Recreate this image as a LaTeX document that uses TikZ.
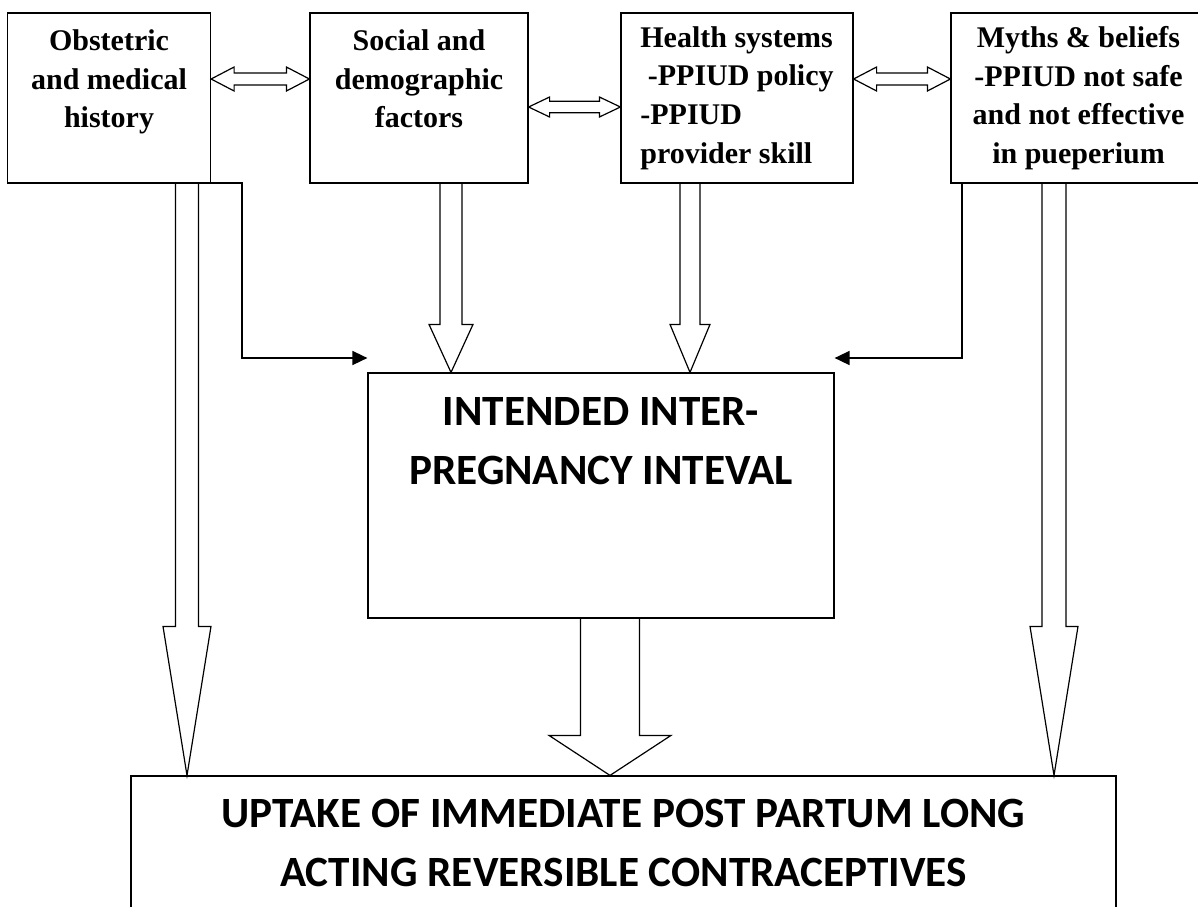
\documentclass[tikz,border=0pt]{standalone}
\usepackage{fontspec}
\setmainfont{Liberation Serif}
\newfontfamily\calibrifont{Carlito}
\usetikzlibrary{calc, arrows.meta}

\tikzset{
  box/.style={draw, line width=0.6pt, rectangle, inner sep=0pt, minimum height=85pt},
  factor/.style={font=\fontsize{15}{19.3}\selectfont\bfseries, align=center},
  bigtext/.style={font=\calibrifont\fontsize{21.6}{29.5}\selectfont\bfseries, align=center, inner sep=0pt},
  elbow/.style={line width=0.8pt, -{Triangle[length=7.5pt,width=7pt]}},
  hollow/.style={line width=0.6pt, line join=miter}
}

% hollow block arrow pointing down: start, tip, shaft half width, head half width, head length
\newcommand{\downblock}[5]{%
  \draw[hollow] let \p1=(#1), \p2=(#2) in
    (\x1-#3,\y1) -- (\x1-#3,\y2+#5) -- (\x1-#4,\y2+#5) -- (\x1,\y2)
    -- (\x1+#4,\y2+#5) -- (\x1+#3,\y2+#5) -- (\x1+#3,\y1);}

% hollow block arrow with two heads: left end, right end, shaft half width, head half width, head length
\newcommand{\twoway}[5]{%
  \draw[hollow] let \p1=(#1), \p2=(#2) in
    (\x1,\y1) -- (\x1+#5,\y1+#4) -- (\x1+#5,\y1+#3) -- (\x2-#5,\y1+#3) -- (\x2-#5,\y1+#4)
    -- (\x2,\y1) -- (\x2-#5,\y1-#4) -- (\x2-#5,\y1-#3) -- (\x1+#5,\y1-#3) -- (\x1+#5,\y1-#4) -- cycle;}

\begin{document}
\begin{tikzpicture}[x=0.5pt, y=-0.5pt]
  \useasboundingbox (0,0) rectangle (1198,906);
  \clip (0,0) rectangle (1198,906);
  \fill[white] (0,0) rectangle (1198,906);

  % factors
  \node[box, factor, minimum width=101.5pt] (obst) at (109,98) {Obstetric\\and medical\\history\\\mbox{}};
  \node[box, factor, minimum width=109pt] (social) at (419,98) {Social and\\demographic\\factors\\\mbox{}};
  \node[box, factor, align=left, minimum width=116pt] (health) at (737,98) {Health systems\\\ -PPIUD policy\\-PPIUD\\provider skill};
  \node[box, factor, minimum width=127.5pt] (myths) at (1078.5,98) {Myths \& beliefs\\-PPIUD not safe\\and not effective\\in pueperium};

  % intermediate and outcome
  \node[box, minimum width=233pt, minimum height=122.5pt] (inter) at (601,495.5) {};
  \node[bigtext] (intertext) at (601,441) {INTENDED INTER-\\PREGNANCY INTEVAL};
  \node[box, minimum width=492.5pt, minimum height=112pt] (uptake) at (623.5,888) {};
  \node[bigtext] (uptaketext) at (623.5,842.5) {UPTAKE OF IMMEDIATE POST PARTUM LONG\\ACTING REVERSIBLE CONTRACEPTIVES};

  \coordinate (colL) at (187,0);
  \coordinate (colS) at (451,0);
  \coordinate (colH) at (690,0);
  \coordinate (colM) at (610,0);
  \coordinate (colR) at (1054,0);
  \coordinate (rowA) at (0,79);
  \coordinate (rowB) at (0,107);

  \twoway{obst.east |- rowA}{social.west |- rowA}{3pt}{6pt}{11.5pt}
  \twoway{social.east |- rowB}{health.west |- rowB}{2.9pt}{5pt}{10.5pt}
  \twoway{health.east |- rowA}{myths.west |- rowA}{3pt}{6pt}{11.5pt}

  \downblock{social.south -| colS}{inter.north -| colS}{5.5pt}{11pt}{24pt}
  \downblock{health.south -| colH}{inter.north -| colH}{5pt}{10pt}{24pt}
  \downblock{obst.south -| colL}{uptake.north -| colL}{5.75pt}{12pt}{74.5pt}
  \downblock{myths.south -| colR}{uptake.north -| colR}{6pt}{12pt}{74.5pt}
  \downblock{inter.south -| colM}{uptake.north -| colM}{14.75pt}{30.5pt}{20pt}

  % side links into the interval
  \coordinate (elbL) at (117,183);
  \coordinate (bendL) at (242,358);
  \coordinate (elbR) at (1089,183);
  \coordinate (bendR) at (962,358);
  \draw[elbow] (elbL) -| (bendL) -- (bendL -| inter.west);
  \draw[elbow] (elbR) -| (bendR) -- (bendR -| inter.east);
\end{tikzpicture}
\end{document}
